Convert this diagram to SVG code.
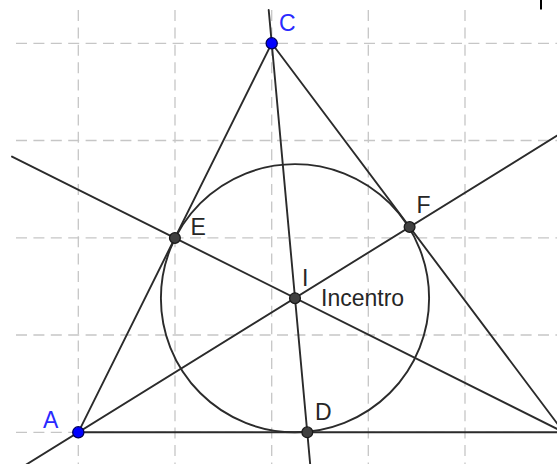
<svg xmlns="http://www.w3.org/2000/svg" width="557" height="464" viewBox="0 0 557 464">
<style>
.grid{stroke:#c6c6c6;stroke-width:1.3;stroke-dasharray:11 6.4;fill:none}
.ln{stroke:#2b2b2b;stroke-width:1.9;fill:none;stroke-linecap:round}
.pt{fill:#404040;stroke:#1a1a1a;stroke-width:1.3}
.bpt{fill:#0000ff;stroke:#00005a;stroke-width:1.3}
.lbl{font-family:"Liberation Sans",Arial,sans-serif;font-size:23px;fill:#262626}
.blbl{font-family:"Liberation Sans",Arial,sans-serif;font-size:23px;fill:#2a2aff}
</style>
<rect width="557" height="464" fill="#ffffff"/>
<g id="grid">
<line class="grid" x1="16" y1="43.3" x2="557" y2="43.3"/>
<line class="grid" x1="16" y1="140.5" x2="557" y2="140.5"/>
<line class="grid" x1="16" y1="237.8" x2="557" y2="237.8"/>
<line class="grid" x1="16" y1="335" x2="557" y2="335"/>
<line class="grid" x1="16" y1="432.3" x2="557" y2="432.3"/>
<line class="grid" x1="78.3" y1="10" x2="78.3" y2="464"/>
<line class="grid" x1="175" y1="10" x2="175" y2="464"/>
<line class="grid" x1="271.7" y1="10" x2="271.7" y2="464"/>
<line class="grid" x1="368.3" y1="10" x2="368.3" y2="464"/>
<line class="grid" x1="465" y1="10" x2="465" y2="464"/>
</g>
<rect x="540" y="0" width="2" height="9.5" fill="#000"/>
<g id="connectors">
<line class="ln" x1="78.3" y1="432.3" x2="271.7" y2="43.3"/>
<line class="ln" x1="271.7" y1="43.3" x2="563.8" y2="432.3"/>
<line class="ln" x1="78.3" y1="432.3" x2="563.8" y2="432.3"/>
<line class="ln" x1="12" y1="156.6" x2="563.8" y2="432.3"/>
<line class="ln" x1="17.5" y1="470" x2="565" y2="130.7"/>
<line class="ln" x1="268.7" y1="10" x2="310.7" y2="470"/>
</g>
<g id="incircle">
<circle class="ln" cx="295" cy="298.2" r="134.1"/>
</g>
<g id="D"><circle class="pt" cx="307.3" cy="432.3" r="5.4"/><text class="lbl" x="315" y="419.5">D</text></g>
<g id="E"><circle class="pt" cx="174.9" cy="238" r="5.4"/><text class="lbl" x="190.5" y="234.5">E</text></g>
<g id="F"><circle class="pt" cx="409.6" cy="227" r="5.4"/><text class="lbl" x="416.5" y="212.5">F</text></g>
<g id="I"><circle class="pt" cx="295" cy="298.2" r="5.4"/><text class="lbl" x="302" y="285.5">I</text><text class="lbl" x="321" y="305.5">Incentro</text></g>
<g id="A"><circle class="bpt" cx="78.3" cy="432.3" r="5.6"/><text class="blbl" x="43" y="427.5">A</text></g>
<g id="C"><circle class="bpt" cx="271.7" cy="43.3" r="5.6"/><text class="blbl" x="279" y="31">C</text></g>
</svg>
